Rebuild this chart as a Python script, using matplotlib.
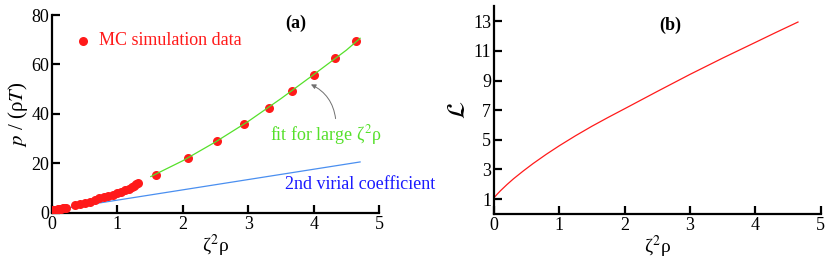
import matplotlib
matplotlib.use("Agg")
import matplotlib.pyplot as plt

# ---- data ----
mc_x = [0.01, 0.03, 0.05, 0.07, 0.09, 0.11, 0.13, 0.16, 0.19, 0.22,
        0.35, 0.43, 0.50, 0.58, 0.66, 0.72, 0.80, 0.86, 0.93, 0.99,
        1.06, 1.12, 1.17, 1.22, 1.26, 1.29, 1.32,
        1.59, 2.08, 2.52, 2.93, 3.31, 3.67, 4.00, 4.33, 4.65]
mc_y = [1.05, 1.15, 1.25, 1.35, 1.45, 1.55, 1.65, 1.8, 1.95, 2.1,
        3.0, 3.5, 4.0, 4.6, 5.3, 5.9, 6.4, 6.9, 7.4, 8.0,
        8.5, 9.2, 9.7, 10.4, 10.9, 11.6, 12.2,
        15.4, 22.3, 29.0, 35.8, 42.5, 49.3, 55.9, 62.6, 69.3]

fit_x = [1.51, 2.0, 2.5, 3.0, 3.5, 4.0, 4.5, 4.71]
fit_y = [14.7, 21.1, 28.7, 37.0, 46.2, 55.9, 65.8, 70.6]

virial_x = [0.0, 4.71]
virial_y = [1.0, 20.6]

L_x = [0.0, 0.05, 0.1, 0.2, 0.3, 0.45, 0.6, 0.8, 1.0, 1.25, 1.5, 1.75,
       2.0, 2.5, 3.0, 3.5, 4.0, 4.3, 4.65]
L_y = [1.08, 1.33, 1.56, 1.98, 2.37, 2.9, 3.4, 4.02, 4.6, 5.28, 5.92, 6.52,
       7.1, 8.27, 9.42, 10.52, 11.58, 12.22, 12.95]

x_ticks = [0, 1, 2, 3, 4, 5]
ya_ticks = [0, 20, 40, 60, 80]
yb_ticks = [1, 3, 5, 7, 9, 11, 13]

plt.rcParams['font.family'] = ['Liberation Serif', 'DejaVu Serif']
plt.rcParams['mathtext.fontset'] = 'stix'

fig = plt.figure(figsize=(8.3, 2.59), dpi=100)
axa = fig.add_axes([0.0627, 0.178, 0.394, 0.764])
axb = fig.add_axes([0.595, 0.174, 0.394, 0.801])

red = '#ff1a1a'
green = '#55e02a'
lblue = '#4a8ff0'
blue = '#1a1aff'

def style(ax):
    for s in ['top', 'right']:
        ax.spines[s].set_visible(False)
    for s in ['left', 'bottom']:
        ax.spines[s].set_linewidth(1.6)
    ax.tick_params(direction='in', length=6, width=1.6, labelsize=13, pad=2)
    ax.set_xlim(0, 5)
    ax.set_xticks(x_ticks)
    ax.set_xlabel('ζ$^2$ρ', fontsize=14, labelpad=0)

style(axa)
axa.set_ylim(0, 80)
axa.set_yticks(ya_ticks)
axa.plot(virial_x, virial_y, color=lblue, lw=0.9, zorder=2)
axa.plot(mc_x, mc_y, 'o', color=red, ms=6.5, mec='none', zorder=3)
axa.plot(fit_x, fit_y, color=green, lw=0.9, zorder=4)
axa.set_ylabel('$p$ / (ρ$T$)', fontsize=15, labelpad=1)
axa.text(3.72, 76.8, '(a)', fontsize=13, fontweight='bold', ha='center', va='center')
axa.plot([0.47], [69.5], 'o', color=red, ms=6.5, mec='none')
axa.text(0.72, 69.5, 'MC simulation data', color=red, fontsize=13, va='center')
axa.text(3.33, 31.5, 'fit for large ζ$^2$ρ', color=green, fontsize=13, va='center')
axa.text(3.56, 11.3, '2nd virial coefficient', color=blue, fontsize=13, va='center',
         clip_on=False)
axa.annotate('', xy=(3.92, 52.4), xytext=(4.34, 37.0),
             arrowprops=dict(arrowstyle='-|>', color='#707070', lw=0.7,
                             mutation_scale=7,
                             connectionstyle='arc3,rad=0.3'))

style(axb)
axb.set_ylim(0, 14)
axb.set_yticks(yb_ticks)
axb.plot(L_x, L_y, color=red, lw=0.9)
axb.set_ylabel(r'$\mathcal{L}$', fontsize=18, labelpad=2)
axb.text(2.69, 12.75, '(b)', fontsize=13, fontweight='bold', ha='center', va='center')

fig.savefig('out.png', dpi=100)
